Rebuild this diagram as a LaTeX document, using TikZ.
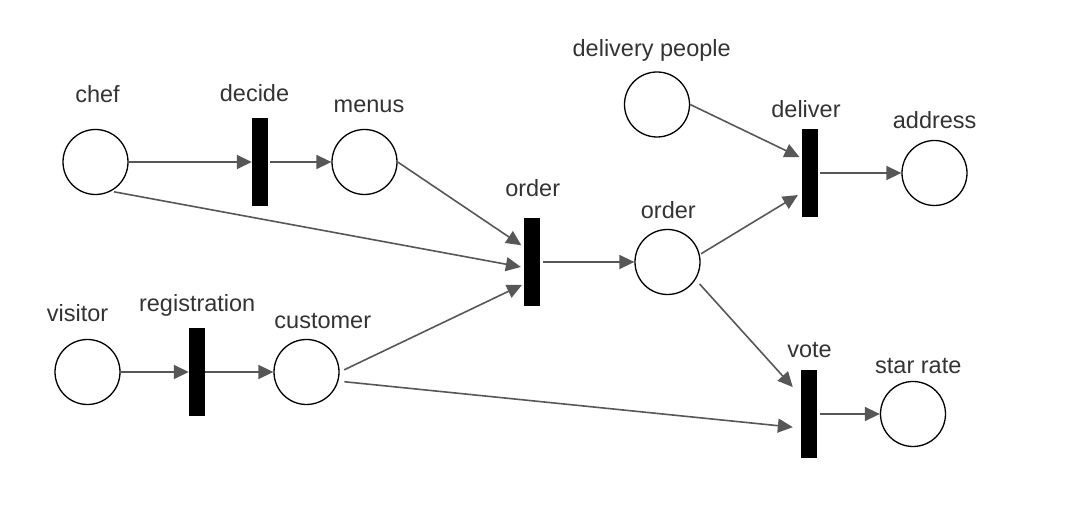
\documentclass[tikz,border=0pt]{standalone}
\usepackage{fontspec}
\setmainfont{Liberation Sans}
\usetikzlibrary{arrows.meta,calc}
\definecolor{flowgray}{RGB}{87,87,87}
\definecolor{txtgray}{RGB}{51,51,51}

\begin{document}
\begin{tikzpicture}[x=1pt, y=1pt,
	place/.style={circle, draw=black, line width=1.3pt, minimum size=65pt, inner sep=0pt},
	trans/.style={rectangle, fill=black, minimum width=16pt, minimum height=88pt, inner sep=0pt},
	lbl/.style={anchor=base, text=txtgray, inner sep=0pt, font=\fontsize{23.5}{28}\selectfont},
	flow/.style={-{Triangle[length=15pt, width=14pt]}, color=flowgray, line width=1.6pt}]
	\useasboundingbox (0,0) rectangle (1077,527);

	\node[place]	(chef)			at	(95.5,365)		{};
	\node[place]	(menus)			at	(364.5,365)		{};
	\node[place]	(visitor)		at	(87.5,155)		{};
	\node[place]	(customer)		at	(306.5,155)		{};
	\node[place]	(dlvPeople)		at	(657,422.5)		{};
	\node[place]	(orderP)		at	(667.5,265)		{};
	\node[place]	(address)		at	(934.5,354)		{};
	\node[place]	(starRate)		at	(913,113)		{};

	\node[trans]	(decide)		at	(260,365)		{};
	\node[trans]	(registration)	at	(197,155)		{};
	\node[trans]	(orderT)		at	(532,265)		{};
	\node[trans]	(deliver)		at	(809.5,354)		{};
	\node[trans]	(vote)			at	(809,113)		{};

	\node[lbl]	(chefL)			at	(97.5,424.7)	{chef};
	\node[lbl]	(decideL)		at	(254.5,425.3)	{decide};
	\node[lbl]	(menusL)		at	(369,414.3)		{menus};
	\node[lbl]	(orderTL)		at	(532.7,330.3)	{order};
	\node[lbl]	(orderPL)		at	(668.3,308.7)	{order};
	\node[lbl]	(dlvPeopleL)	at	(651.7,470.3)	{delivery people};
	\node[lbl]	(deliverL)		at	(806,409.7)		{deliver};
	\node[lbl]	(addressL)		at	(934.7,398.7)	{address};
	\node[lbl]	(visitorL)		at	(77.5,205.3)	{visitor};
	\node[lbl]	(registrationL)	at	(197.2,215.3)	{registration};
	\node[lbl]	(customerL)		at	(322.8,198.7)	{customer};
	\node[lbl]	(voteL)			at	(809.5,169.7)	{vote};
	\node[lbl]	(starRateL)		at	(918.3,153.7)	{star rate};

	\draw[flow] (chef) -- (decide);
	\draw[flow, shorten <=2pt] (decide) -- (menus);
	\draw[flow, shorten <=3pt, shorten >=3pt] (chef.-62) -- ([yshift=-5.5pt]orderT.west);
	\draw[flow, shorten >=3pt] (menus.east) -- ([yshift=15pt]orderT.west);
	\draw[flow] (visitor) -- (registration);
	\draw[flow] (registration) -- (customer);
	\draw[flow, shorten <=5pt, shorten >=2pt] (customer.east) -- ([yshift=-22pt]orderT.west);
	\draw[flow, shorten <=6pt, shorten >=8pt] (customer.-16) -- ([yshift=-14pt]vote.west);
	\draw[flow, shorten <=2.5pt] (orderT) -- (orderP);
	\draw[flow, shorten <=1.5pt, shorten >=4pt] (orderP.13) -- ([yshift=-20pt]deliver.west);
	\draw[flow, shorten <=6pt, shorten >=12pt] (orderP.-32) -- ([yshift=18pt]vote.west);
	\draw[flow, shorten >=2pt] (dlvPeople.east) -- ([yshift=15pt]deliver.west);
	\draw[flow, shorten <=2pt] (deliver) -- (address);
	\draw[flow, shorten <=3pt] (vote) -- (starRate);
\end{tikzpicture}
\end{document}
